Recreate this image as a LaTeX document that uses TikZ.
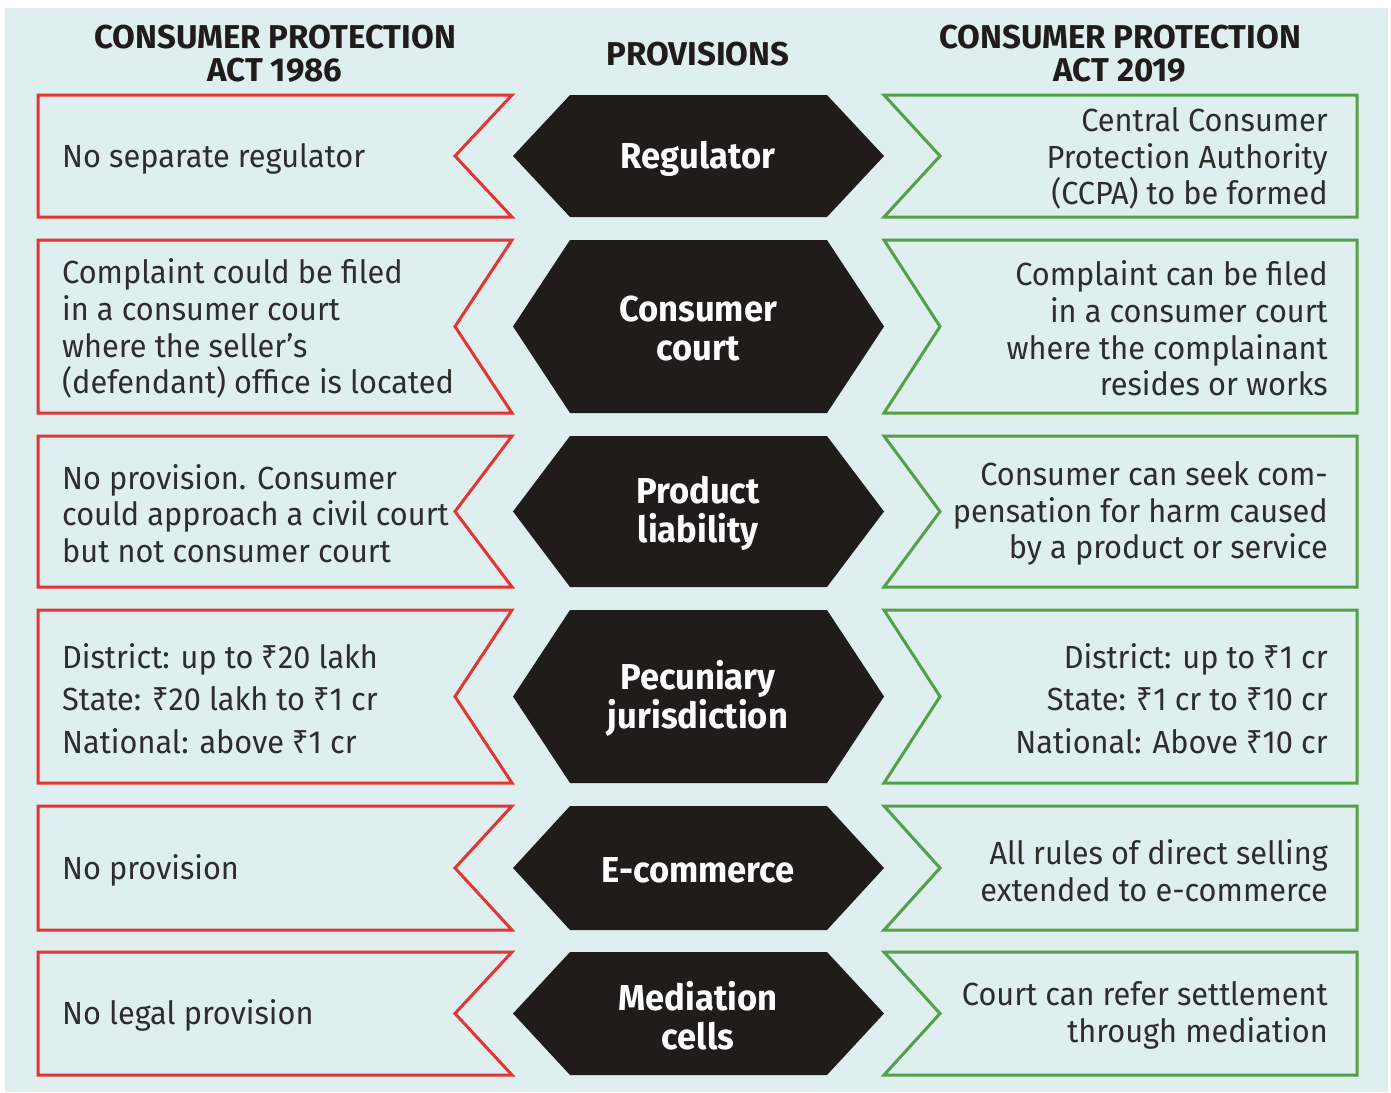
\documentclass[tikz,border=0pt]{standalone}
\usepackage{fontspec}
\setmainfont{Fira Sans}
\newfontfamily\bodyfont{Fira Sans}[FakeStretch=0.96]
\newfontfamily\headfont{Fira Sans}[FakeStretch=1.0]
\newfontfamily\provfont{Fira Sans}[FakeStretch=0.96]
\newfontfamily\rupeefont{Noto Sans}[FakeStretch=0.9]
\newcommand\rs{{\rupeefont ₹}}

\definecolor{bgcyan}{RGB}{223,238,238}
\definecolor{actred}{RGB}{228,52,52}
\definecolor{actgreen}{RGB}{82,160,72}
\definecolor{hexblack}{RGB}{33,28,28}
\definecolor{txtgray}{RGB}{45,45,45}

\tikzset{
  oldbox/.style={draw=actred, line width=3pt, line join=miter},
  newbox/.style={draw=actgreen, line width=3pt, line join=miter},
  hexbox/.style={fill=hexblack},
  head/.style={font=\headfont\fontsize{33}{33}\selectfont\bfseries, text=hexblack, align=center, inner sep=0pt},
  prov/.style={font=\provfont\fontsize{36}{39}\selectfont\bfseries, text=white, align=center, inner sep=0pt, yshift=-2.5pt},
  oldtxt/.style={font=\bodyfont\fontsize{32}{36.7}\selectfont, text=txtgray, align=left, anchor=west, inner sep=0pt, yshift=-2.5pt},
  newtxt/.style={font=\bodyfont\fontsize{32}{36.7}\selectfont, text=txtgray, align=right, anchor=east, inner sep=0pt, yshift=-2.5pt}
}

\begin{document}
\begin{tikzpicture}[x=1pt,y=-1pt]
  \useasboundingbox (0,0) rectangle (1391,1092);
  \fill[bgcyan] (5,8) rectangle (1388,1092);

  % headings
  \node[head] (hold) at (275,54) {CONSUMER PROTECTION\\ACT 1986};
  \node[head] (hprov) at (698,54) {PROVISIONS};
  \node[head] (hnew) at (1120,54) {CONSUMER PROTECTION\\ACT 2019};

  % boxes, one row at a time
  \foreach \t/\b in {95/217, 240/413, 436/587, 610/783, 806/930, 952/1075} {
    \pgfmathsetmacro\m{(\t+\b)/2}
    \draw[oldbox] (38,\t) -- (512,\t) -- (455,\m) -- (512,\b) -- (38,\b) -- cycle;
    \fill[hexbox] (513,\m) -- (570,\t) -- (827,\t) -- (884,\m) -- (827,\b) -- (570,\b) -- cycle;
    \draw[newbox] (884,\t) -- (1357,\t) -- (1357,\b) -- (884,\b) -- (940,\m) -- cycle;
  }

  % provisions
  \node[prov] (regulator) at (698,156) {Regulator};
  \node[prov] (court) at (698,326) {Consumer\\court};
  \node[prov] (liability) at (698,511) {Product\\liability};
  \node[prov] (pecuniary) at (698,696) {Pecuniary\\jurisdiction};
  \node[prov] (ecommerce) at (698,868) {E-commerce};
  \node[prov] (mediation) at (698,1013) {Mediation\\cells};

  % act 1986
  \node[oldtxt] (old1) at (62,156) {No separate regulator};
  \node[oldtxt] (old2) at (62,326) {Complaint could be filed\\in a consumer court\\where the seller’s\\(defendant) office is located};
  \node[oldtxt] (old3) at (62,511) {No provision. Consumer\\could approach a civil court\\but not consumer court};
  \node[oldtxt] (old4) at (62,696) {District: up to \rs20 lakh\\[6pt]State: \rs20 lakh to \rs1 cr\\[6pt]National: above \rs1 cr};
  \node[oldtxt] (old5) at (62,868) {No provision};
  \node[oldtxt] (old6) at (62,1013) {No legal provision};

  % act 2019
  \node[newtxt] (new1) at (1328,156) {Central Consumer\\Protection Authority\\(CCPA) to be formed};
  \node[newtxt] (new2) at (1328,326) {Complaint can be filed\\in a consumer court\\where the complainant\\resides or works};
  \node[newtxt] (new3) at (1328,511) {Consumer can seek com-\\pensation for harm caused\\by a product or service};
  \node[newtxt] (new4) at (1328,696) {District: up to \rs1 cr\\[6pt]State: \rs1 cr to \rs10 cr\\[6pt]National: Above \rs10 cr};
  \node[newtxt] (new5) at (1328,868) {All rules of direct selling\\extended to e-commerce};
  \node[newtxt] (new6) at (1328,1013) {Court can refer settlement\\through mediation};
\end{tikzpicture}
\end{document}
